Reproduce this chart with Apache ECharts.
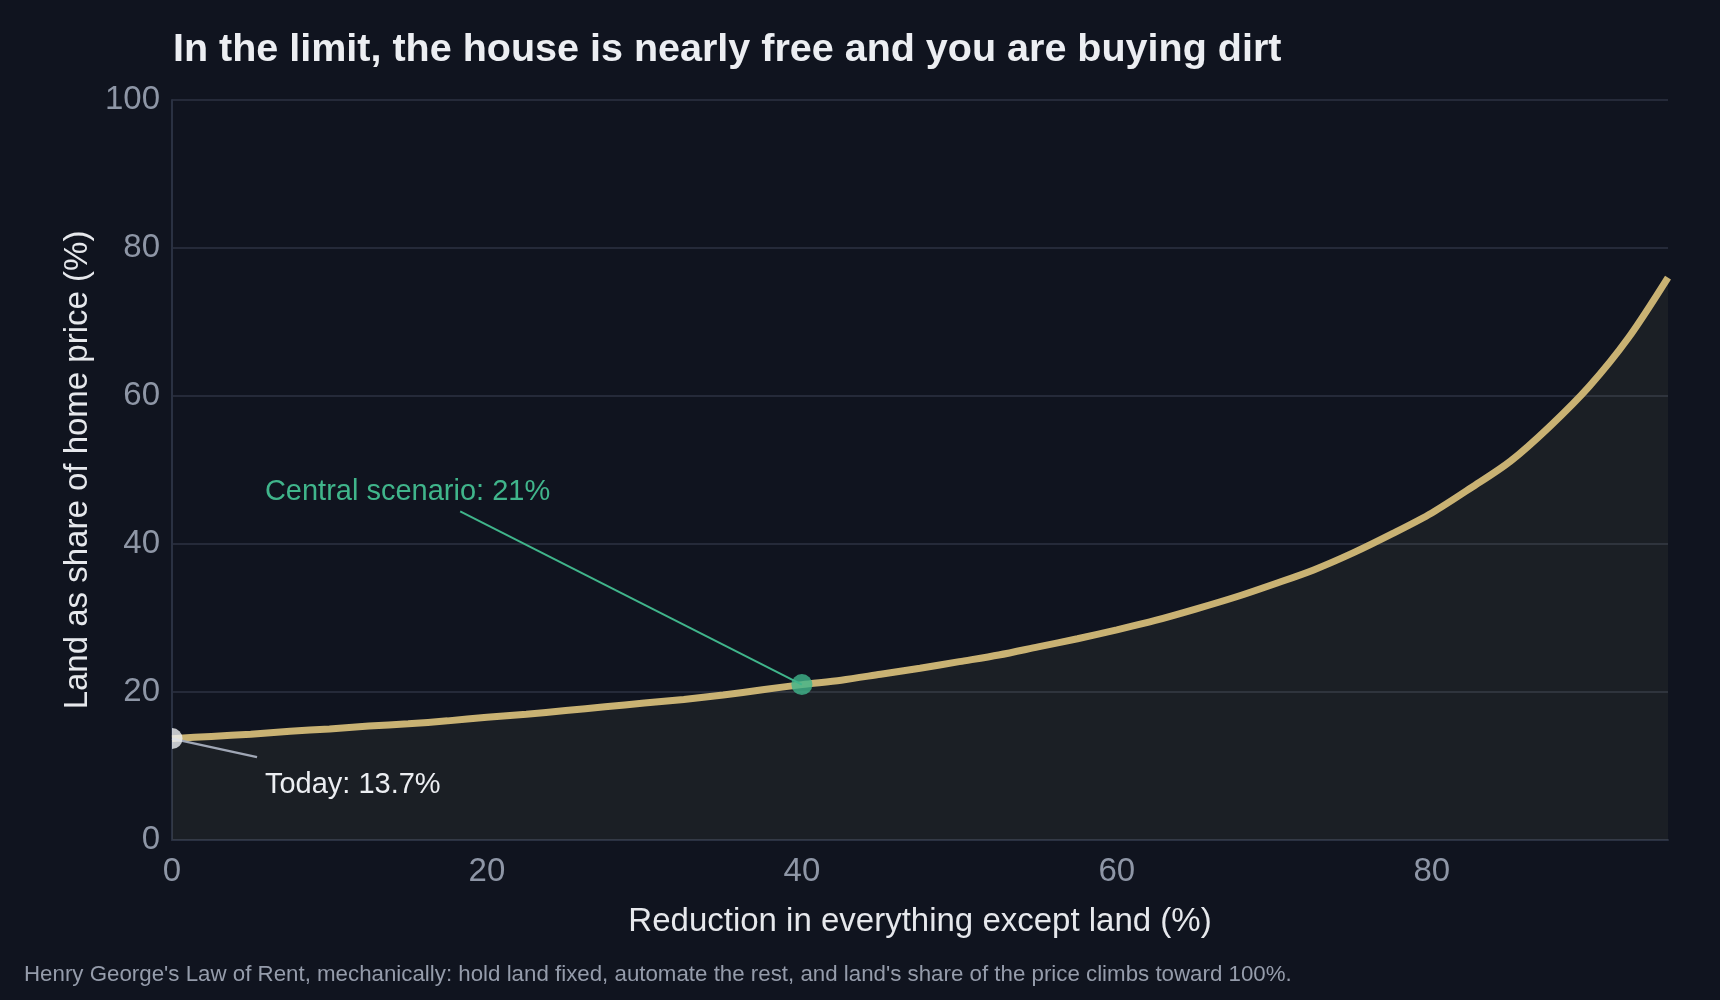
<!DOCTYPE html>
<html>
<head>
<meta charset="utf-8">
<title>Land share of home price</title>
<script src="https://cdn.jsdelivr.net/npm/echarts@6/dist/echarts.min.js"></script>
<style>
  html, body { margin: 0; padding: 0; background: #10141f; }
  #chart-container { width: 1720px; height: 1000px; }
</style>
</head>
<body>
<div id="chart-container"></div>
<script>
// reduction in everything except land (%) -> land share of price (%)
const reduction = [0, 2.5, 5, 7.5, 10, 12.5, 15, 17.5, 20, 22.5, 25, 27.5, 30, 32.5, 35, 37.5, 40, 42.5, 45, 47.5,
  50, 52.5, 55, 57.5, 60, 62.5, 65, 67.5, 70, 72.5, 75, 77.5, 80, 82.5, 85, 87.5, 90, 92.5, 95];
const landShare = [13.7, 14.0, 14.3, 14.7, 15.0, 15.4, 15.7, 16.1, 16.6, 17.0, 17.5, 18.0, 18.5, 19.0, 19.6, 20.3, 21.0, 21.6, 22.4, 23.2,
  24.1, 25.0, 26.1, 27.2, 28.4, 29.7, 31.2, 32.8, 34.6, 36.5, 38.8, 41.4, 44.2, 47.6, 51.2, 55.9, 61.3, 67.9, 76.0];
const todayPoint = [0, 13.7];
const centralPoint = [40, 21];
const xTicks = [0, 20, 40, 60, 80];
const yTicks = [0, 20, 40, 60, 80, 100];

(() => {
  var dom = document.getElementById("chart-container");
  var chart = echarts.init(dom, null, { renderer: "canvas" });

  const font = "'Liberation Sans', Arial, sans-serif";
  const gold = "#c9b273";
  const green = "#40b58b";
  const gridColor = "#252a39";

  const option = {
    backgroundColor: "#10141f",
    animation: false,
    textStyle: { fontFamily: font },
    title: [
      {
        text: "In the limit, the house is nearly free and you are buying dirt",
        left: 168,
        top: 25,
        textStyle: { color: "#eceef2", fontSize: 39.5, fontWeight: "bold", fontFamily: font },
      },
      {
        text: "Henry George's Law of Rent, mechanically: hold land fixed, automate the rest, and land's share of the price climbs toward 100%.",
        left: 19,
        top: 959,
        textStyle: { color: "#959cab", fontSize: 22.3, fontWeight: "normal", fontFamily: font },
      },
    ],
    grid: { left: 172, right: 52, top: 100, bottom: 160 },
    xAxis: {
      type: "value",
      min: 0,
      max: 95,
      interval: 20,
      name: "Reduction in everything except land (%)",
      nameLocation: "middle",
      nameGap: 65,
      nameTextStyle: { color: "#e6e8ec", fontSize: 33 },
      axisLine: { show: true, lineStyle: { color: "#2a3142", width: 2 } },
      axisTick: { show: false },
      splitLine: { show: false },
      axisLabel: {
        color: "#8e96a6",
        fontSize: 33,
        margin: 15,
        showMaxLabel: false,
        formatter: (v) => (xTicks.includes(v) ? String(v) : ""),
      },
    },
    yAxis: {
      type: "value",
      min: 0,
      max: 100,
      interval: 20,
      name: "Land as share of home price (%)",
      nameLocation: "middle",
      nameGap: 77,
      nameRotate: 90,
      nameTextStyle: { color: "#e6e8ec", fontSize: 33 },
      axisLine: { show: true, lineStyle: { color: "#2a3142", width: 2 } },
      axisTick: { show: false },
      splitLine: { show: true, lineStyle: { color: gridColor, width: 2 } },
      axisLabel: {
        color: "#8e96a6",
        fontSize: 33,
        margin: 12,
        formatter: (v) => (yTicks.includes(v) ? String(v) : ""),
      },
    },
    series: [
      {
        name: "Land share",
        type: "line",
        data: reduction.map((x, i) => [x, landShare[i]]),
        smooth: 0.3,
        showSymbol: false,
        lineStyle: { color: gold, width: 7 },
        areaStyle: { color: "rgba(186, 180, 131, 0.1)" },
        z: 3,
        silent: true,
      },
      {
        name: "Central scenario",
        type: "scatter",
        data: [centralPoint],
        symbolSize: 21,
        itemStyle: { color: green },
        z: 5,
        markLine: {
          silent: true,
          symbol: ["none", "none"],
          label: { show: false },
          lineStyle: { color: green, width: 2, type: "solid" },
          data: [[{ coord: centralPoint }, { coord: [18.3, 44.4] }]],
        },
        markPoint: {
          silent: true,
          symbol: "circle",
          symbolSize: 0,
          data: [{ coord: [5.9, 47.0] }],
          label: {
            show: true,
            position: "right",
            distance: 0,
            formatter: "Central scenario: 21%",
            color: green,
            fontSize: 29,
          },
        },
      },
      {
        name: "Today",
        type: "scatter",
        data: [todayPoint],
        // right half of the dot only: the plot edge cuts it
        symbol: "path://M0,0 A10,10 0 0,1 0,20 Z",
        symbolSize: [10.5, 21],
        symbolOffset: [5.25, 0],
        clip: false,
        itemStyle: { color: "#eef0f4" },
        z: 5,
        markLine: {
          silent: true,
          symbol: ["none", "none"],
          label: { show: false },
          lineStyle: { color: "#a0a7b6", width: 2.5, type: "solid" },
          data: [[{ coord: todayPoint }, { coord: [5.4, 11.2] }]],
        },
        markPoint: {
          silent: true,
          symbol: "circle",
          symbolSize: 0,
          data: [{ coord: [5.9, 7.5] }],
          label: {
            show: true,
            position: "right",
            distance: 0,
            formatter: "Today: 13.7%",
            color: "#eceef2",
            fontSize: 29,
          },
        },
      },
    ],
  };
  chart.setOption(option);
  window.addEventListener("resize", chart.resize);
})();
</script>
</body>
</html>
